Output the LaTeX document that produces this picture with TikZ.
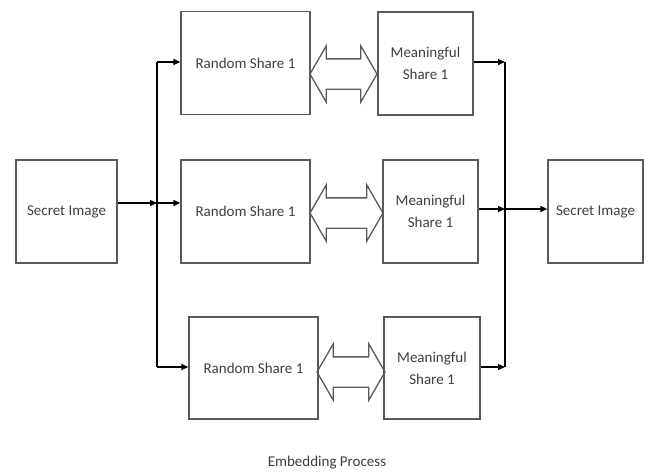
\documentclass[tikz,border=0pt]{standalone}
\usepackage{fontspec}
\setmainfont{Carlito}
\usetikzlibrary{shapes.arrows,arrows.meta}
\definecolor{boxline}{HTML}{5A5A5A}
\definecolor{boxtext}{HTML}{3E3E3E}

\begin{document}
\begin{tikzpicture}[x=1pt, y=-1pt, >={Triangle[length=7pt,width=6pt]}, line width=1.3pt,
		block/.style={draw=boxline, text=boxtext, minimum height=103pt, align=center,
			font=\fontsize{15}{22}\selectfont, inner sep=0pt},
		swap/.style={draw=boxline, double arrow, double arrow head extend=13pt,
			double arrow tip angle=120, inner xsep=0pt, inner ysep=14.5pt,
			minimum width=55pt}]
	\useasboundingbox (0, 0) rectangle (649, 472);
		\node[block, minimum width=101pt] (secret) at (66.5, 211.5) {Secret Image};
		\node[block, minimum width=129pt] (rand1) at (245.5, 63) {Random Share 1};
		\node[block, minimum width=129pt] (rand2) at (245.5, 211.5) {Random Share 1};
		\node[block, minimum width=129pt, minimum height=102pt] (rand3) at (253.5, 368) {Random Share 1};
		\node[block, minimum width=95pt] (mean1) at (425.5, 63.5) {Meaningful\\Share 1};
		\node[block, minimum width=95pt] (mean2) at (430.5, 211.5) {Meaningful\\Share 1};
		\node[block, minimum width=96pt, minimum height=102pt] (mean3) at (432, 368) {Meaningful\\Share 1};
		\node[block, minimum width=95pt] (recov) at (595.5, 211.5) {Secret Image};
		\node[swap, minimum height=67pt] (swap1) at (343.5, 74) {};
		\node[swap, minimum height=73pt] (swap2) at (346.5, 213) {};
		\node[swap, minimum height=68pt] (swap3) at (351, 372) {};
		\node[text=boxtext, font=\fontsize{15}{18}\selectfont] (caption) at (327, 463) {Embedding Process};
		% splitting side
		\coordinate (ltop) at (157, 62);
		\coordinate (lmid) at (157, 203);
		\coordinate (lbot) at (157, 367);
		\draw (ltop) to (lbot);
		\draw[->] (secret.east |- lmid) to (lmid);
		\draw[->] (ltop) to (rand1.west |- ltop);
		\draw[->] (lmid) to (rand2.west |- lmid);
		\draw[->] (lbot) to (rand3.west |- lbot);
		% stacking side
		\coordinate (rtop) at (505, 62);
		\coordinate (rmid) at (505, 209);
		\coordinate (rbot) at (505, 367);
		\draw (rtop) to (rbot);
		\draw[->] (mean1.east |- rtop) to (rtop);
		\draw[->] (mean2.east |- rmid) to (rmid);
		\draw[->] (mean3.east |- rbot) to (rbot);
		\draw[->] (rmid) to (recov.west |- rmid);
\end{tikzpicture}
\end{document}
